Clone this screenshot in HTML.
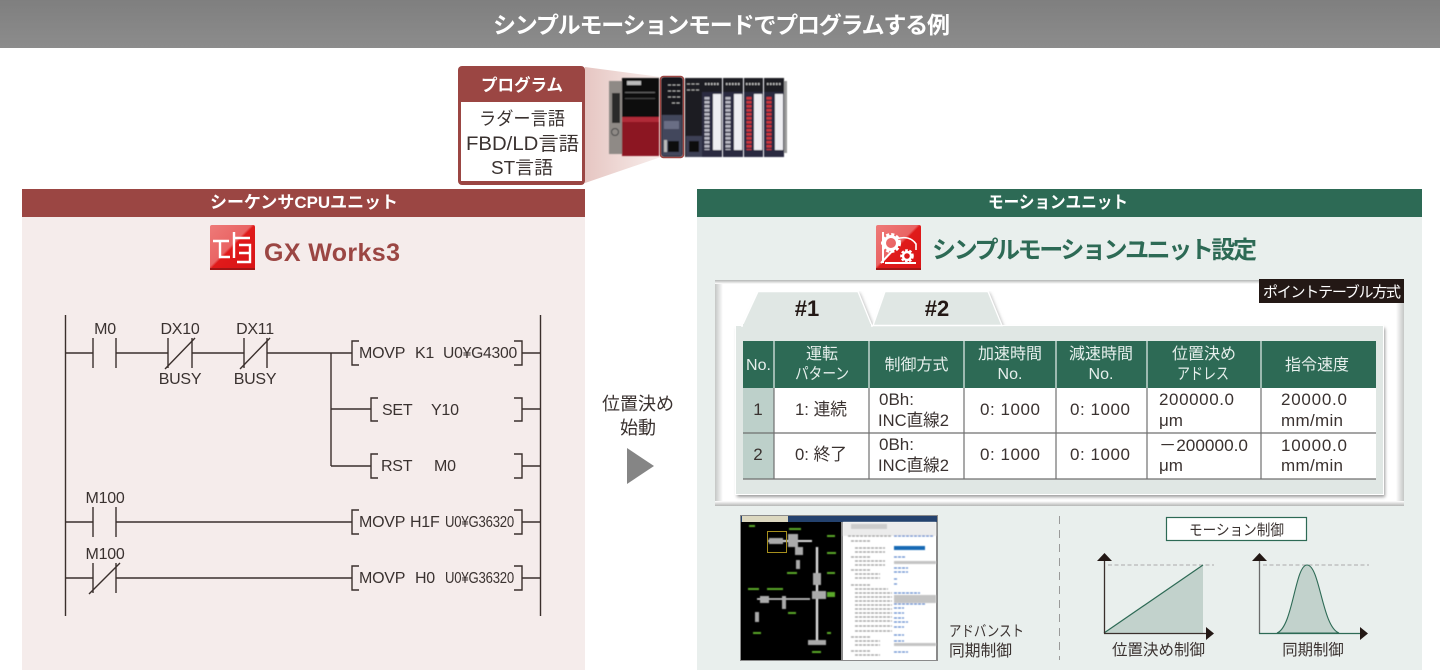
<!DOCTYPE html>
<html lang="ja"><head><meta charset="utf-8"><title>シンプルモーションモードでプログラムする例</title>
<style>
html,body{margin:0;padding:0;background:#fff;width:1440px;height:670px;overflow:hidden}
svg{display:block}
text{font-family:"Liberation Sans","Noto Sans CJK JP",sans-serif}
.l text{font-size:16px;fill:#3a3230;letter-spacing:-.25px}
.h text{font-size:16px;fill:#e6efec;text-anchor:middle}
.b text{font-size:17px;fill:#3a3230}
.m{text-anchor:middle}
.w line,.w polyline{stroke:#3a2f2c;stroke-width:1.4;fill:none}
</style></head><body>
<svg xmlns="http://www.w3.org/2000/svg" width="1440" height="670" viewBox="0 0 1440 670">
<defs>
<linearGradient id="hd" x1="0" y1="0" x2="0" y2="1"><stop offset="0" stop-color="#7f7f7f"/><stop offset="1" stop-color="#8c8c8c"/></linearGradient>
<linearGradient id="fn" x1="0" y1="0" x2="1" y2="0"><stop offset="0" stop-color="#e6c6c2"/><stop offset="1" stop-color="#f8eeec"/></linearGradient>
<linearGradient id="ic" x1="0" y1="0" x2="1" y2="1"><stop offset="0" stop-color="#ee7a78"/><stop offset=".46" stop-color="#e96464"/><stop offset=".5" stop-color="#e01a1a"/><stop offset="1" stop-color="#d81416"/></linearGradient>
<linearGradient id="sl" x1="0" y1="0" x2="1" y2="0"><stop offset="0" stop-color="#c4c6c5"/><stop offset="1" stop-color="#fff"/></linearGradient>
<linearGradient id="sr" x1="0" y1="0" x2="1" y2="0"><stop offset="0" stop-color="#fff"/><stop offset="1" stop-color="#c4c6c5"/></linearGradient>
<linearGradient id="st" x1="0" y1="0" x2="0" y2="1"><stop offset="0" stop-color="#b4b6b5"/><stop offset="1" stop-color="#fff"/></linearGradient>
<linearGradient id="sb" x1="0" y1="0" x2="0" y2="1"><stop offset="0" stop-color="#fff"/><stop offset="1" stop-color="#b4b6b5"/></linearGradient>
<filter id="bl" x="-5%" y="-5%" width="110%" height="110%"><feGaussianBlur stdDeviation=".45"/></filter>
<filter id="bs" x="-5%" y="-5%" width="110%" height="110%"><feGaussianBlur stdDeviation="1.5"/></filter>
</defs>

<!-- title bar -->
<rect x="0" y="0" width="1440" height="48" fill="url(#hd)"/>
<text x="493" y="33" font-size="23" font-weight="700" fill="#fff" textLength="457" lengthAdjust="spacing">シンプルモーションモードでプログラムする例</text>

<!-- funnel -->
<polygon points="585,67 661,77 661,157 585,183" fill="url(#fn)"/>

<!-- PLC -->
<g filter="url(#bl)">
<rect x="609" y="81" width="13" height="73" fill="#8f8a86"/>
<rect x="612" y="93" width="8" height="30" fill="#2a2a2a"/>
<circle cx="615" cy="132" r="3.5" fill="none" stroke="#444"/>
<rect x="622" y="78" width="37" height="78" fill="#111"/>
<rect x="622" y="117" width="37" height="39" fill="#8c1420"/>
<rect x="622" y="117" width="37" height="5" fill="#b02a38"/>
<rect x="627" y="81" width="14" height="4" fill="#bbb"/>
<rect x="625" y="92" width="30" height="1" fill="#666"/>
<rect x="625" y="98" width="30" height="1" fill="#444"/>
<rect x="661" y="77" width="22" height="80" rx="3" fill="#17181d"/>
<rect x="662" y="115" width="20" height="41" fill="#42465c"/>
<g stroke="#aaa" stroke-dasharray="3 1.5"><line x1="668" y1="85" x2="680" y2="85"/><line x1="668" y1="91" x2="680" y2="91"/><line x1="668" y1="97" x2="680" y2="97"/><line x1="672" y1="103" x2="680" y2="103"/></g>
<rect x="664" y="121" width="15" height="8" fill="#6a6e85"/>
<rect x="668" y="141" width="11" height="11" fill="#111"/>
<rect x="664" y="140" width="3" height="12" fill="#bbb"/>
<rect x="685" y="78" width="17" height="79" fill="#1d1e24"/>
<rect x="686" y="136" width="16" height="21" fill="#3d4055"/>
<rect x="689" y="141" width="10" height="11" fill="#0c0c0c"/>
<g stroke="#aaa" stroke-dasharray="3 1.5"><line x1="687" y1="84" x2="699" y2="84"/><line x1="687" y1="90" x2="699" y2="90"/></g>
<rect x="702" y="78" width="20" height="79" fill="#2a2c40"/><rect x="702" y="78" width="20" height="14" fill="#1c1c20"/><rect x="713" y="94" width="8" height="56" fill="#eeeef2"/>
<rect x="723" y="78" width="20" height="79" fill="#2a2c40"/><rect x="723" y="78" width="20" height="14" fill="#1c1c20"/><rect x="734" y="94" width="8" height="56" fill="#eeeef2"/>
<rect x="744" y="78" width="19" height="79" fill="#2a2c40"/><rect x="744" y="78" width="19" height="14" fill="#1c1c20"/><rect x="754" y="94" width="8" height="56" fill="#eeeef2"/>
<rect x="764" y="78" width="20" height="79" fill="#2a2c40"/><rect x="764" y="78" width="20" height="14" fill="#1c1c20"/><rect x="775" y="94" width="8" height="56" fill="#eeeef2"/>
<g stroke-width="5" stroke-dasharray="2.5 1.5" fill="none">
<line x1="707" y1="97" x2="707" y2="150" stroke="#b9b9c4"/><line x1="728" y1="97" x2="728" y2="150" stroke="#b9b9c4"/>
<line x1="749" y1="97" x2="749" y2="150" stroke="#d0353c"/><line x1="769" y1="97" x2="769" y2="150" stroke="#d0353c"/>
</g>
<g stroke="#bbb" stroke-width="2" stroke-dasharray="1.5 1.5"><line x1="705" y1="84" x2="720" y2="84"/><line x1="726" y1="84" x2="741" y2="84"/><line x1="746" y1="84" x2="761" y2="84"/><line x1="767" y1="84" x2="782" y2="84"/></g>
<rect x="784" y="81" width="3" height="72" fill="#999"/>
</g>
<rect x="660.5" y="76.5" width="23" height="81" rx="3" fill="none" stroke="#9b4643" stroke-width="1.6"/>

<!-- program box -->
<rect x="458" y="66" width="127" height="119" rx="4" fill="#9b4643"/>
<rect x="461" y="102" width="121" height="79" fill="#fff"/>
<text x="481" y="91" font-size="17" font-weight="700" fill="#fff" textLength="82" lengthAdjust="spacingAndGlyphs">プログラム</text>
<text x="479" y="125" font-size="18" fill="#3a3230" textLength="86" lengthAdjust="spacingAndGlyphs">ラダー言語</text>
<text x="466" y="150" font-size="19" fill="#3a3230" textLength="113" lengthAdjust="spacingAndGlyphs">FBD/LD言語</text>
<text x="491" y="174" font-size="18" fill="#3a3230" textLength="62" lengthAdjust="spacingAndGlyphs">ST言語</text>

<!-- left panel -->
<rect x="22" y="217" width="563" height="453" fill="#f5eceb"/>
<rect x="22" y="189" width="563" height="28" fill="#9b4643"/>
<text x="210" y="208" font-size="17" font-weight="700" fill="#fff" textLength="188" lengthAdjust="spacingAndGlyphs">シーケンサCPUユニット</text>

<!-- GX icon -->
<rect x="210" y="225" width="45" height="45" rx="2" fill="url(#ic)"/>
<rect x="210" y="268" width="45" height="2" fill="#a01515"/>
<g fill="none" stroke="#fff" stroke-width="2.4">
<path d="M213 241H229M220 241V257H230"/>
<path d="M234 232V258M234 238H250M239 245H250V262H237M239 253H250"/>
</g>
<text x="264" y="261" font-size="25" font-weight="700" fill="#9b4643" textLength="136" lengthAdjust="spacing">GX Works3</text>

<!-- ladder -->
<g class="w">
<line x1="65.5" y1="315" x2="65.5" y2="616"/>
<line x1="540.5" y1="315" x2="540.5" y2="616"/>
<line x1="65" y1="353" x2="93" y2="353"/>
<line x1="93" y1="338" x2="93" y2="368"/><line x1="116" y1="338" x2="116" y2="368"/>
<line x1="116" y1="353" x2="168" y2="353"/>
<line x1="168" y1="338" x2="168" y2="368"/><line x1="192" y1="338" x2="192" y2="368"/>
<line x1="165" y1="369" x2="195" y2="338"/>
<line x1="192" y1="353" x2="244" y2="353"/>
<line x1="244" y1="338" x2="244" y2="368"/><line x1="267" y1="338" x2="267" y2="368"/>
<line x1="240" y1="369" x2="270" y2="338"/>
<line x1="267" y1="353" x2="352" y2="353"/>
<line x1="331" y1="353" x2="331" y2="466"/>
<polyline points="359,341 352,341 352,365 359,365"/>
<polyline points="514,341 522,341 522,365 514,365"/>
<line x1="522" y1="353" x2="540" y2="353"/>
<line x1="331" y1="409" x2="371" y2="409"/>
<polyline points="378,398 371,398 371,421 378,421"/>
<polyline points="514,398 522,398 522,421 514,421"/>
<line x1="522" y1="409" x2="540" y2="409"/>
<line x1="331" y1="466" x2="371" y2="466"/>
<polyline points="378,454 371,454 371,478 378,478"/>
<polyline points="514,454 522,454 522,478 514,478"/>
<line x1="522" y1="466" x2="540" y2="466"/>
<line x1="65" y1="522" x2="93" y2="522"/>
<line x1="93" y1="507" x2="93" y2="537"/><line x1="116" y1="507" x2="116" y2="537"/>
<line x1="116" y1="522" x2="352" y2="522"/>
<polyline points="359,510 352,510 352,534 359,534"/>
<polyline points="514,510 522,510 522,534 514,534"/>
<line x1="522" y1="522" x2="540" y2="522"/>
<line x1="65" y1="578" x2="93" y2="578"/>
<line x1="93" y1="563" x2="93" y2="593"/><line x1="116" y1="563" x2="116" y2="593"/>
<line x1="89" y1="594" x2="120" y2="563"/>
<line x1="116" y1="578" x2="352" y2="578"/>
<polyline points="359,566 352,566 352,590 359,590"/>
<polyline points="514,566 522,566 522,590 514,590"/>
<line x1="522" y1="578" x2="540" y2="578"/>
</g>
<g class="l">
<text x="105" y="334" class="m">M0</text>
<text x="180" y="334" class="m">DX10</text>
<text x="255" y="334" class="m">DX11</text>
<text x="180" y="384" class="m">BUSY</text>
<text x="255" y="384" class="m">BUSY</text>
<text x="359" y="358">MOVP</text><text x="415" y="358">K1</text><text x="443" y="358" textLength="74" lengthAdjust="spacingAndGlyphs">U0¥G4300</text>
<text x="382" y="415">SET</text><text x="431" y="415">Y10</text>
<text x="381" y="471">RST</text><text x="434" y="471">M0</text>
<text x="105" y="503" class="m">M100</text>
<text x="359" y="527">MOVP</text><text x="410" y="527">H1F</text><text x="445" y="527" textLength="69" lengthAdjust="spacingAndGlyphs">U0¥G36320</text>
<text x="105" y="559" class="m">M100</text>
<text x="359" y="583">MOVP</text><text x="415" y="583">H0</text><text x="445" y="583" textLength="69" lengthAdjust="spacingAndGlyphs">U0¥G36320</text>
</g>

<!-- center arrow -->
<text x="638" y="410" class="m" font-size="18" fill="#3a3230">位置決め</text>
<text x="638" y="434" class="m" font-size="18" fill="#3a3230">始動</text>
<polygon points="627,448 654,466 627,484" fill="#858585"/>

<!-- right panel -->
<rect x="697" y="217" width="725" height="453" fill="#e9efed"/>
<rect x="697" y="189" width="725" height="28" fill="#2d6a55"/>
<text x="988" y="208" font-size="17" font-weight="700" fill="#fff" textLength="140" lengthAdjust="spacingAndGlyphs">モーションユニット</text>

<!-- motion icon -->
<rect x="876" y="225" width="45" height="45" rx="2" fill="url(#ic)"/>
<rect x="876" y="268" width="45" height="2" fill="#a01515"/>
<g fill="none" stroke="#fff">
<path d="M883 232V263M881 263L896 247M885 263H916" stroke-width="2"/>
<path d="M896 239C905 236 912 238 916 244V250" stroke-width="1.6"/>
</g>
<circle cx="891" cy="243" r="8.5" fill="none" stroke="#fff" stroke-width="3" stroke-dasharray="3 2"/>
<circle cx="891" cy="243" r="6.5" fill="none" stroke="#fff" stroke-width="3"/>
<circle cx="907" cy="256" r="5.5" fill="none" stroke="#fff" stroke-width="2.6" stroke-dasharray="2.5 1.5"/>
<circle cx="907" cy="256" r="4" fill="none" stroke="#fff" stroke-width="2.4"/>

<text x="932" y="258" font-size="24" font-weight="700" fill="#2d6a55" textLength="325" lengthAdjust="spacing">シンプルモーションユニット設定</text>

<!-- white panel -->
<rect x="715" y="280" width="689" height="226" fill="#fff"/>
<rect x="715" y="280" width="8" height="226" fill="url(#sl)"/>
<rect x="1396" y="280" width="8" height="226" fill="url(#sr)"/>
<rect x="715" y="280" width="689" height="4" fill="url(#st)"/>
<rect x="715" y="501" width="689" height="5" fill="url(#sb)"/>
<rect x="1259" y="279" width="145" height="24" fill="#231815"/>
<text x="1263" y="297" font-size="15" fill="#fff" textLength="138" lengthAdjust="spacing">ポイントテーブル方式</text>

<!-- card + tabs -->
<rect x="737" y="328" width="648" height="169" fill="#777" opacity=".75" filter="url(#bs)"/>
<polygon points="875,327 887,293 990,293 1004,327" fill="#bbb" filter="url(#bs)"/>
<polygon points="744,327 760,293 860,293 874,327" fill="#bbb" filter="url(#bs)"/>
<rect x="735.5" y="325.5" width="648" height="169" fill="#e0e7e4" stroke="#fff"/>
<polygon points="873,325.5 885,291.5 988,291.5 1002,325.5" fill="#e0e7e4" stroke="#fff" stroke-width="1.4"/>
<polygon points="742,326 758,291.5 858,291.5 872,326" fill="#e0e7e4" stroke="#fff" stroke-width="1.4"/>
<rect x="743" y="324" width="128" height="3" fill="#e0e7e4"/>
<text x="807" y="316" class="m" font-size="22" font-weight="700" fill="#231815">#1</text>
<text x="937" y="316" class="m" font-size="22" font-weight="700" fill="#231815">#2</text>

<!-- table -->
<rect x="743" y="388" width="633" height="91" fill="#fff"/>
<rect x="743" y="388" width="31" height="91" fill="#bdd0ca"/>
<rect x="743" y="341" width="633" height="47" fill="#2d6a55"/>
<g stroke="#e6efec" stroke-width="1.2">
<line x1="774" y1="341" x2="774" y2="388"/><line x1="869" y1="341" x2="869" y2="388"/><line x1="964" y1="341" x2="964" y2="388"/><line x1="1056" y1="341" x2="1056" y2="388"/><line x1="1147" y1="341" x2="1147" y2="388"/><line x1="1261" y1="341" x2="1261" y2="388"/>
</g>
<g stroke="#6f6f6f" stroke-width="1.2">
<line x1="774" y1="388" x2="774" y2="479"/><line x1="869" y1="388" x2="869" y2="479"/><line x1="964" y1="388" x2="964" y2="479"/><line x1="1056" y1="388" x2="1056" y2="479"/><line x1="1147" y1="388" x2="1147" y2="479"/><line x1="1261" y1="388" x2="1261" y2="479"/>
<line x1="743" y1="433" x2="1376" y2="433"/><line x1="743" y1="479" x2="1376" y2="479"/>
</g>
<g class="h">
<text x="758.5" y="370">No.</text>
<text x="822" y="359">運転</text><text x="822" y="379" textLength="54" lengthAdjust="spacingAndGlyphs">パターン</text>
<text x="916.5" y="370">制御方式</text>
<text x="1010" y="359">加速時間</text><text x="1010" y="379">No.</text>
<text x="1101" y="359">減速時間</text><text x="1101" y="379">No.</text>
<text x="1204" y="359">位置決め</text><text x="1203" y="379" textLength="52" lengthAdjust="spacingAndGlyphs">アドレス</text>
<text x="1317" y="370">指令速度</text>
</g>
<g class="b">
<text x="758" y="415" class="m">1</text>
<text x="795" y="415" textLength="52" lengthAdjust="spacingAndGlyphs">1: 連続</text>
<text x="879" y="405">0Bh:</text><text x="878" y="426" textLength="71" lengthAdjust="spacingAndGlyphs">INC直線2</text>
<text x="980" y="415" textLength="60" lengthAdjust="spacing">0: 1000</text>
<text x="1070" y="415" textLength="60" lengthAdjust="spacing">0: 1000</text>
<text x="1159" y="405" textLength="75" lengthAdjust="spacing">200000.0</text><text x="1159" y="426">μm</text>
<text x="1281" y="405" textLength="66" lengthAdjust="spacing">20000.0</text><text x="1281" y="426" textLength="62" lengthAdjust="spacing">mm/min</text>
<text x="758" y="460" class="m">2</text>
<text x="795" y="460" textLength="52" lengthAdjust="spacingAndGlyphs">0: 終了</text>
<text x="879" y="450">0Bh:</text><text x="878" y="471" textLength="71" lengthAdjust="spacingAndGlyphs">INC直線2</text>
<text x="980" y="460" textLength="60" lengthAdjust="spacing">0: 1000</text>
<text x="1070" y="460" textLength="60" lengthAdjust="spacing">0: 1000</text>
<text x="1159" y="451" textLength="89" lengthAdjust="spacingAndGlyphs">－200000.0</text><text x="1159" y="471">μm</text>
<text x="1281" y="451" textLength="66" lengthAdjust="spacing">10000.0</text><text x="1281" y="471" textLength="62" lengthAdjust="spacing">mm/min</text>
</g>

<!-- screenshot -->
<rect x="740" y="515" width="198" height="146" fill="#8a8a8a"/>
<rect x="741" y="516" width="196" height="6" fill="#24426e"/>
<rect x="742" y="516" width="46" height="6" fill="#dcd8c0"/>
<rect x="741" y="522" width="100" height="138" fill="#000"/>
<rect x="843" y="522" width="93" height="138" fill="#fff"/>
<g filter="url(#bl)">
<rect x="843" y="522" width="93" height="14" fill="#ececec"/>
<rect x="851" y="524" width="36" height="5" fill="#ccc"/>
<g stroke="#ddd" fill="none">
<line x1="768" y1="541" x2="812" y2="541" stroke-width="2"/>
<line x1="817" y1="547" x2="817" y2="640" stroke-width="2.4"/>
<line x1="757" y1="599" x2="810" y2="599" stroke-width="1.6"/>
</g>
<g fill="#aaa">
<rect x="769" y="538" width="14" height="6"/><rect x="788" y="534" width="10" height="13"/><rect x="795" y="547" width="8" height="8"/>
<rect x="760" y="596" width="9" height="7"/><rect x="782" y="596" width="4" height="13"/><rect x="812" y="591" width="14" height="8"/><rect x="808" y="640" width="18" height="5"/>
<rect x="755" y="612" width="4" height="10"/><rect x="796" y="560" width="4" height="9"/><rect x="813" y="573" width="8" height="12"/>
</g>
<g fill="#5aa82a">
<rect x="749" y="525" width="6" height="2"/><rect x="789" y="528" width="12" height="2"/><rect x="827" y="535" width="8" height="2"/><rect x="827" y="552" width="9" height="2"/><rect x="787" y="572" width="10" height="2"/><rect x="827" y="572" width="8" height="2"/><rect x="748" y="588" width="11" height="2"/><rect x="767" y="588" width="16" height="2"/><rect x="827" y="592" width="8" height="5"/><rect x="788" y="612" width="8" height="2"/><rect x="753" y="632" width="8" height="2"/><rect x="827" y="632" width="4" height="2"/><rect x="812" y="651" width="9" height="2"/>
</g>
<rect x="894" y="546" width="31" height="4" fill="#1469b4"/>
<g fill="#c4c4c4"><rect x="894" y="561" width="42" height="3"/><rect x="894" y="595" width="42" height="8"/><rect x="894" y="643" width="42" height="3"/></g>
<g stroke="#9a9a9a" stroke-width="1.2" stroke-dasharray="3 1">
<line x1="848" y1="536" x2="892" y2="536"/><line x1="851" y1="541" x2="870" y2="541"/><line x1="855" y1="548" x2="885" y2="548"/><line x1="855" y1="552" x2="885" y2="552"/><line x1="851" y1="557" x2="870" y2="557"/><line x1="855" y1="561" x2="885" y2="561"/><line x1="855" y1="565" x2="885" y2="565"/><line x1="851" y1="570" x2="870" y2="570"/><line x1="855" y1="574" x2="880" y2="574"/><line x1="855" y1="578" x2="880" y2="578"/><line x1="851" y1="585" x2="870" y2="585"/><line x1="855" y1="589" x2="888" y2="589"/><line x1="855" y1="593" x2="892" y2="593"/><line x1="855" y1="597" x2="892" y2="597"/><line x1="855" y1="601" x2="892" y2="601"/><line x1="855" y1="605" x2="892" y2="605"/><line x1="855" y1="609" x2="892" y2="609"/><line x1="855" y1="613" x2="892" y2="613"/><line x1="855" y1="617" x2="892" y2="617"/><line x1="855" y1="621" x2="892" y2="621"/><line x1="855" y1="626" x2="892" y2="626"/><line x1="855" y1="631" x2="892" y2="631"/><line x1="851" y1="637" x2="870" y2="637"/><line x1="855" y1="641" x2="880" y2="641"/><line x1="855" y1="645" x2="880" y2="645"/><line x1="851" y1="651" x2="870" y2="651"/><line x1="855" y1="655" x2="880" y2="655"/>
</g>
<g stroke="#5f86cc" stroke-width="1.2" stroke-dasharray="3 1">
<line x1="894" y1="536" x2="934" y2="536"/><line x1="894" y1="557" x2="905" y2="557"/><line x1="894" y1="568" x2="908" y2="568"/><line x1="894" y1="572" x2="908" y2="572"/><line x1="894" y1="579" x2="897" y2="579"/><line x1="894" y1="584" x2="897" y2="584"/><line x1="894" y1="593" x2="920" y2="593"/><line x1="894" y1="604" x2="925" y2="604"/><line x1="894" y1="608" x2="904" y2="608"/><line x1="894" y1="613" x2="904" y2="613"/><line x1="894" y1="618" x2="904" y2="618"/><line x1="894" y1="622" x2="908" y2="622"/><line x1="894" y1="627" x2="904" y2="627"/><line x1="894" y1="635" x2="904" y2="635"/><line x1="894" y1="641" x2="904" y2="641"/><line x1="894" y1="652" x2="908" y2="652"/></g>
</g>
<rect x="767.5" y="531.5" width="19" height="21" fill="none" stroke="#a68f1d"/>
<text x="949" y="636" font-size="15" fill="#3a3230" textLength="75" lengthAdjust="spacingAndGlyphs">アドバンスト</text>
<text x="949" y="656" font-size="16" fill="#3a3230" textLength="63" lengthAdjust="spacingAndGlyphs">同期制御</text>

<!-- divider -->
<line x1="1059.5" y1="516" x2="1059.5" y2="660" stroke="#9a9a9a" stroke-dasharray="8 6"/>

<!-- motion control -->
<rect x="1166.5" y="517.5" width="140" height="23" fill="#fff" stroke="#2d6a55" stroke-width="1.2"/>
<text x="1189" y="535" font-size="15" fill="#3a3230" textLength="95" lengthAdjust="spacingAndGlyphs">モーション制御</text>

<line x1="1108" y1="565" x2="1214" y2="565" stroke="#aaa" stroke-dasharray="4 2.5"/>
<polygon points="1104,633 1203,565 1203,633" fill="#c2d2cc"/>
<line x1="1104" y1="633" x2="1203" y2="565" stroke="#2d6a55" stroke-width="1.2"/>
<line x1="1104.5" y1="560" x2="1104.5" y2="633.5" stroke="#3a2f2c" stroke-width="1.3"/>
<line x1="1104" y1="633.5" x2="1207" y2="633.5" stroke="#3a2f2c" stroke-width="1.3"/>
<polygon points="1104.5,553 1112,561 1097,561" fill="#231815"/>
<polygon points="1214,633.5 1206,627 1206,640" fill="#231815"/>
<text x="1112" y="655" font-size="15.4" fill="#3a3230" textLength="93" lengthAdjust="spacingAndGlyphs">位置決め制御</text>

<line x1="1263" y1="565" x2="1369" y2="565" stroke="#aaa" stroke-dasharray="4 2.5"/>
<path d="M1277 633C1293 627 1295 565 1307 565C1320 565 1322 627 1339 633Z" fill="#c2d2cc" stroke="#2d6a55" stroke-width="1.1"/>
<line x1="1259.5" y1="560" x2="1259.5" y2="633.5" stroke="#6b6b6b" stroke-width="1.3"/>
<line x1="1259" y1="633.5" x2="1361" y2="633.5" stroke="#2d6a55" stroke-width="1.2"/>
<polygon points="1259.5,553 1267,561 1252,561" fill="#231815"/>
<polygon points="1368,633.5 1360,627 1360,640" fill="#231815"/>
<text x="1313" y="655" class="m" font-size="15.4" fill="#3a3230">同期制御</text>
</svg>
</body></html>
